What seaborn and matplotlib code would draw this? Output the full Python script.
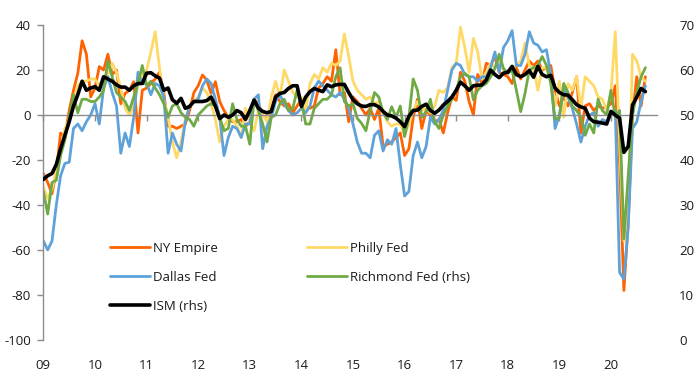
import numpy as np
import pandas as pd
import matplotlib
matplotlib.use("Agg")
import matplotlib.pyplot as plt
import seaborn as sns

# ---------------- data (monthly, Jan 2009 - Sep 2020) ----------------
n_months = 141
time = 2009 + np.arange(n_months) / 12.0

ny_empire = [
    -26, -30, -35, -25, -8, -9.6, 2, 11, 18.5, 33, 27, 8,
    12, 21.5, 20, 27, 18, 20, 5, 9.6, 11, 14.8, -8, 11,
    12, 14, 16, 19, 10, -5, -5, -6, -5, -4, 2, 10,
    13, 17.8, 15.5, 9.6, 14.8, 6, 2, -1, -3, -3, -2, -5,
    -3, 7, 5, 0, -2, 2, 9, 6, 4, 5, 1, 4,
    7, 3.7, 3, 4, 12, 14, 17, 15, 29, 9, 10, -3,
    8, 6, 3, 0, 3, -2, 3, -14, -13, -12, -10, -8,
    -18, -15, -1, 7, -6, 2, 0, -3, -2, -8, 1, 8,
    6.5, 19, 15, 6, 0, 18, 14, 23, 22, 26, 19, 18,
    17, 14, 21, 16, 20, 24, 22, 24, 20, 21, 22, 11,
    4, 8, 4, 10, 17, -8, 4, 5, 2, 4, 3, 3.5,
    5, 13, -21, -78, -48, 0, 17, 4, 17,
]

philly_fed = [
    -32, -37, -33, -25, -17, -6, -2, 6, 13, 15, 15, 16,
    16, 13, 17, 18, 23, 19, 12, 3, 0, 4, 13, 18,
    20, 28, 37, 21, 7, -1, -12, -19, -12, -2, 4, 6,
    8, 12, 10, 5, -2, -12, -5, -2, -2, -5, -10, 3,
    -3, -7, 2, 0, -3, 8, 15, 8, 20, 15, 10, 8,
    8, 2, 14, 18, 16, 21, 19, 23, 22, 24, 36, 26,
    15, 11, 9, 7, 8, 5, 6, 2, -3, -5, -4, -4,
    -9, -4, 2, 6, 2, 3, 1, 4, 11, 10, 12, 21,
    23, 39, 30, 19, 34, 28, 16, 19, 23, 21, 25, 20,
    19, 21, 22, 24, 32, 22, 21, 11, 21, 21, 15, 4,
    15, -1, 14, 11, 17, 3, 17, 15, 13, 8, 7, 2,
    10, 37, -12, -56, -43, 27, 24, 17, 15,
]

dallas_fed = [
    -56, -60, -56, -40, -27, -21.5, -21, -6, -4, -7, -3, 0,
    5, -4, 12, 17, 10, 4, -17, -8, -14, -1, 19, 14,
    14, 9, 14, 13, 8, -17, -8, -13, -16, -3, 4, 6,
    7, 13, 16, 14, 7, -1, -18, -10, -5, -6, -10, -4,
    -4, 7, 9, -15, -5, -1, 6, 9, 5, 2, 0, 1,
    3, 1, 4, 12, 15, 13, 11, 9, 8, 10, 7, 3,
    -4, -12, -17, -17, -19, -9, -7, -16, -11, -13, -6, -22,
    -36, -34, -18, -12, -19, -14, -1, -4, -2, 2, 11, 20,
    23, 22, 18, 17, 17, 15, 17, 17, 21, 28, 19, 30,
    33, 37.5, 22, 22, 27, 37, 32, 31, 28, 29, 18, -6,
    0, 12, 8, 3, -4, -12, -5, 0, 1, -5, -2, -3,
    0, 2, -70, -73, -50, -6, -3, 6, 13,
]

richmond_fed = [
    -34, -44, -30, -29, -18, -11, -1, 9, 1, 7, 7, 6,
    6, 8, 11, 24, 17, 10, 8, 6, 2, 8, 14, 22,
    13, 15, 12, 9, 5, -1, 4, 5, 1, -1, -2, -5,
    0, 2, 4, 5, 4, -1, -7, -6, 5, -2, -5, -5,
    -13, 7, 2, -4, -12, -1, 0, 5, 7, 2, 3, 11,
    6, -4, -4, 3, 5, 7, 7, 9, 17, 21, 6, 4,
    5, -1.5, -3.7, -7, 2, 10, 8, 1, -2, 3.7, -1, 4,
    -9.6, -1, 16, 11, -1, 1.5, 7, -3, -6, 0, 4, 7,
    11, 17, 18.5, 17, 6.7, 11, 13, 14, 17, 20.7, 27, 20.7,
    18.5, 20, 11, 1.5, 9.6, 20, 21, 22, 26, 22, 14, -2,
    -1, 14, 10, 4, 2, -1, -9, -4, -8, 7, 2, 0,
    11, -1, 2, -55, -27, 0, 10, 17, 21,
]

ism = [
    35.7, 36.5, 37.0, 39.0, 42.5, 45.5, 48.5, 52.0, 54.5, 57.5, 55.5, 56.0,
    56.3, 55.5, 58.5, 58.0, 57.5, 56.7, 56.2, 56.2, 55.5, 56.5, 57.0, 57.0,
    59.3, 59.4, 58.7, 58.2, 55.5, 56.0, 53.4, 52.6, 53.7, 51.5, 51.9, 53.0,
    53.0, 53.0, 53.2, 54.0, 52.0, 49.2, 50.0, 49.5, 50.0, 51.0, 50.5, 49.0,
    51.0, 53.3, 51.5, 50.8, 50.5, 50.8, 54.0, 54.8, 55.0, 55.9, 56.5, 56.5,
    51.9, 54.0, 55.2, 55.9, 55.5, 55.2, 56.7, 56.3, 56.7, 56.8, 56.8, 55.0,
    53.4, 52.5, 52.0, 51.9, 52.3, 52.3, 51.8, 50.8, 50.0, 49.8, 49.3, 48.5,
    47.4, 49.7, 51.0, 51.1, 51.9, 52.4, 51.0, 50.4, 51.1, 52.2, 53.0, 54.0,
    55.5, 57.3, 56.5, 55.5, 56.5, 56.6, 56.7, 57.8, 60.0, 59.0, 58.3, 59.3,
    59.5, 60.8, 59.0, 58.5, 59.0, 59.9, 58.4, 60.8, 59.0, 58.5, 58.8, 56.0,
    55.0, 54.5, 54.4, 53.4, 52.3, 51.8, 51.5, 49.3, 48.5, 48.4, 48.2, 48.0,
    50.8, 50.0, 49.3, 41.7, 43.0, 52.2, 54.0, 55.9, 55.2,
]

series_names = ["NY Empire", "Philly Fed", "Dallas Fed", "Richmond Fed (rhs)"]
series_colors = ["#FF6200", "#FFD966", "#5FA2DA", "#6FAA46"]
ism_name = "ISM (rhs)"

year_ticks = list(range(2009, 2021))
year_labels = ["09", "10", "11", "12", "13", "14", "15", "16", "17", "18", "19", "20"]
left_ticks = [-100, -80, -60, -40, -20, 0, 20, 40]
right_ticks = [0, 10, 20, 30, 40, 50, 60, 70]

# ---------------- build long-form table ----------------
df = pd.DataFrame({
    "time": np.tile(time, 4),
    "value": np.concatenate([ny_empire, philly_fed, dallas_fed, richmond_fed]),
    "series": np.repeat(series_names, n_months),
})
df_ism = pd.DataFrame({"time": time, "value": ism})

# ---------------- style ----------------
sns.set_theme(style="white")
plt.rcParams["font.family"] = ["Open Sans", "DejaVu Sans"]
FS = 9.5
TXT = "#1a1a1a"
GRID = "#8c8c8c"

W, H = 697, 384
fig = plt.figure(figsize=(W / 100, H / 100), dpi=100)
ax = fig.add_axes([43.4 / W, 44 / H, (657 - 43.4) / W, 315 / H])

sns.lineplot(data=df, x="time", y="value", hue="series", hue_order=series_names,
             palette=series_colors, linewidth=2.0, ax=ax, legend=False,
             estimator=None, sort=False)

ax.set_xlim(2009, 2009 + 142.7 / 12)
ax.set_ylim(-100, 40)
ax.set_yticks(left_ticks)
ax.set_yticklabels([str(t) for t in left_ticks])
ax.set_xlabel("")
ax.set_ylabel("")

for s in ["top", "right"]:
    ax.spines[s].set_visible(False)
ax.spines["left"].set_color(GRID)
ax.spines["left"].set_linewidth(1.0)
ax.spines["bottom"].set_position(("data", 0))
ax.spines["bottom"].set_color(GRID)
ax.spines["bottom"].set_linewidth(1.0)

ax.set_xticks(year_ticks)
ax.tick_params(axis="x", bottom=True, direction="out", length=4, width=1,
               color=GRID, labelbottom=False)
ax.tick_params(axis="y", left=True, direction="out", length=4, width=1,
               color=GRID, labelsize=FS, labelcolor=TXT, pad=5)

secax = ax.secondary_xaxis("bottom")
secax.set_xticks(year_ticks)
secax.set_xticklabels(year_labels)
secax.tick_params(length=0, pad=14, labelsize=FS, labelcolor=TXT)
secax.spines["bottom"].set_visible(False)

# ---------------- ISM on right axis ----------------
ax2 = ax.twinx()
sns.lineplot(data=df_ism, x="time", y="value", color="black", linewidth=2.6,
             ax=ax2, legend=False, estimator=None, sort=False)
ax2.set_ylim(0, 70)
ax2.set_yticks(right_ticks)
ax2.set_yticklabels([str(t) for t in right_ticks])
ax2.set_ylabel("")
for s in ax2.spines.values():
    s.set_visible(False)
ax2.tick_params(axis="y", right=True, length=0, pad=16, labelsize=FS, labelcolor=TXT)

# ---------------- legend ----------------
lines = ax.get_lines()
handles = {name: ln for name, ln in zip(series_names, lines[:4])}
handles[ism_name] = ax2.get_lines()[0]
order = ["NY Empire", "Dallas Fed", ism_name, "Philly Fed", "Richmond Fed (rhs)"]
leg = ax2.legend([handles[k] for k in order], order, ncol=2, loc="upper left",
                 bbox_to_anchor=(110 / W, 1 - 242 / H), bbox_transform=fig.transFigure,
                 frameon=False, fontsize=FS, handlelength=3.0, handletextpad=0.25,
                 columnspacing=6.8, labelspacing=1.2, borderpad=0, borderaxespad=0)
for t in leg.get_texts():
    t.set_color(TXT)

fig.savefig("out.png", dpi=100)
